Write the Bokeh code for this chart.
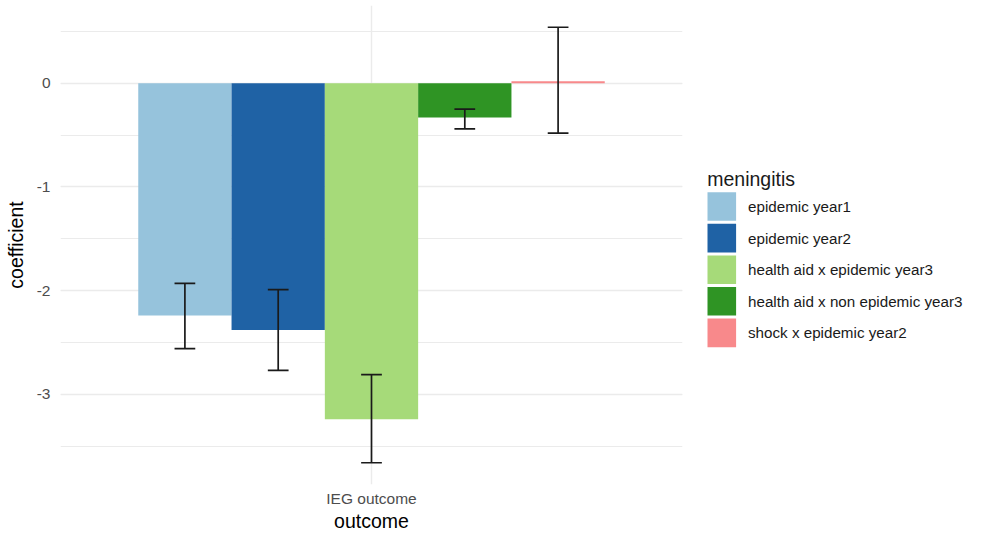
from bokeh.plotting import figure
from bokeh.layouts import row
from bokeh.models import ColumnDataSource, Range1d, FixedTicker, SingleIntervalTicker
from bokeh.core.properties import value
from bokeh.embed import file_html
from bokeh.resources import INLINE

outcome = "IEG outcome"
groups = ["epidemic year1", "epidemic year2", "health aid x epidemic year3",
          "health aid x non epidemic year3", "shock x epidemic year2"]
coef = [-2.24, -2.38, -3.24, -0.33, 0.02]
lower = [-2.56, -2.77, -3.66, -0.44, -0.48]
upper = [-1.93, -1.99, -2.81, -0.25, 0.54]
colors = ["#96c3dc", "#1f62a5", "#a6da79", "#2f9424", "#f8898b"]
y_ticks = [-3, -2, -1, 0]
legend_title = "meningitis"
x_title = "outcome"
y_title = "coefficient"

FONT = "Liberation Sans"
FW, FH, TOP = 622, 479, 5
n = len(groups)
dodge = 0.9
bw = dodge / n
xs = [1 - dodge / 2 + bw * (i + 0.5) for i in range(n)]
cap = 0.2 / n

span = max(upper) - min(lower)
y0 = min(lower) - 0.05 * span
y1 = max(upper) + 0.05 * span

p = figure(frame_width=FW, frame_height=FH, output_backend="svg", toolbar_location=None,
           x_range=Range1d(0.4, 1.6), y_range=Range1d(y0, y1),
           min_border_left=60, min_border_right=2, min_border_top=TOP, min_border_bottom=0)
p.outline_line_color = None
p.background_fill_color = "white"
p.border_fill_color = "white"

src = ColumnDataSource(dict(x=xs, top=coef, lo=lower, hi=upper, color=colors, group=groups,
                            cl=[x - cap / 2 for x in xs], cr=[x + cap / 2 for x in xs]))
p.vbar(x="x", width=bw, top="top", bottom=0, fill_color="color", line_color=None, source=src)
p.segment(x0="x", x1="x", y0="lo", y1="hi", line_color="#1a1a1a", line_width=1.7, source=src)
p.segment(x0="cl", x1="cr", y0="lo", y1="lo", line_color="#1a1a1a", line_width=1.7, source=src)
p.segment(x0="cl", x1="cr", y0="hi", y1="hi", line_color="#1a1a1a", line_width=1.7, source=src)

# axes
p.xaxis.ticker = FixedTicker(ticks=[1])
p.xaxis.major_label_overrides = {1: outcome}
p.yaxis.ticker = SingleIntervalTicker(interval=1, num_minor_ticks=2)
p.yaxis.major_label_overrides = {t: str(t) for t in y_ticks}
for ax in (p.xaxis[0], p.yaxis[0]):
    ax.axis_line_color = None
    ax.major_tick_line_color = None
    ax.minor_tick_line_color = None
    ax.major_tick_out = 0
    ax.major_tick_in = 0
    ax.minor_tick_out = 0
    ax.minor_tick_in = 0
    ax.major_label_text_font = FONT
    ax.major_label_text_font_size = "15.5px"
    ax.major_label_text_color = "#4d4d4d"
    ax.axis_label_text_font = FONT
    ax.axis_label_text_font_size = "19.5px"
    ax.axis_label_text_font_style = "normal"
    ax.axis_label_text_color = "black"
p.xaxis.axis_label = x_title
p.yaxis.axis_label = y_title
p.xaxis.major_label_standoff = 5
p.xaxis.axis_label_standoff = 0
p.yaxis.major_label_standoff = 10
p.yaxis.axis_label_standoff = 7

p.xgrid.ticker = FixedTicker(ticks=[1])
p.xgrid.grid_line_color = "#ebebeb"
p.xgrid.grid_line_width = 1.4
p.ygrid.grid_line_color = "#ebebeb"
p.ygrid.grid_line_width = 1.4
p.ygrid.minor_grid_line_color = "#ebebeb"
p.ygrid.minor_grid_line_width = 1.0

# legend panel: pixel coordinates measured from the plot frame's top, y downward
LW = 968 - (60 + FW + 2)
lg = figure(frame_width=LW, frame_height=FH, output_backend="svg", toolbar_location=None,
            x_range=Range1d(0, LW), y_range=Range1d(FH, 0),
            x_axis_type=None, y_axis_type=None,
            min_border_left=0, min_border_right=0, min_border_top=TOP, min_border_bottom=0)
lg.outline_line_color = None
lg.xgrid.visible = False
lg.ygrid.visible = False
lg.border_fill_color = "white"
key_left, key_size, key_top, pitch = 23, 28.6, 186.7, 31.6
ky = [key_top + key_size / 2 + pitch * i for i in range(n)]
lsrc = ColumnDataSource(dict(x=[key_left + key_size / 2] * n, y=ky, color=colors, label=groups,
                             tx=[key_left + 40.5] * n))
lg.rect(x="x", y="y", width=key_size, height=key_size, fill_color="color", line_color=None, source=lsrc)
lg.text(x="tx", y="y", text="label", text_font=value(FONT), text_font_size="15.2px",
        text_color="#1a1a1a", text_baseline="middle", text_align="left", source=lsrc)
lg.text(x=[key_left - 0.3], y=[173], text=[legend_title], text_font=value(FONT), text_font_size="19.5px",
        text_color="#1a1a1a", text_baseline="alphabetic", text_align="left")

open("out.html", "w").write(file_html(row(p, lg, spacing=0), INLINE))
